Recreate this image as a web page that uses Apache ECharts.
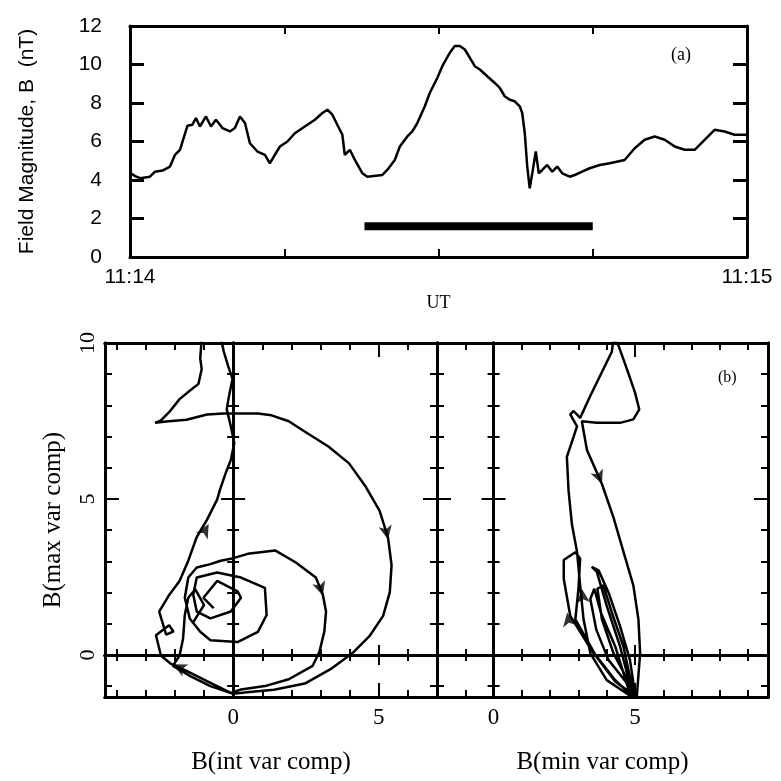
<!DOCTYPE html>
<html><head><meta charset="utf-8">
<script src="https://cdn.jsdelivr.net/npm/echarts@6/dist/echarts.min.js"></script>
<style>html,body{margin:0;padding:0;background:#fff}#c{width:781px;height:781px}</style>
</head><body><div id="c"></div>
<script>
// ---------- panel (a): field magnitude vs time (seconds after 11:14:00) ----------
const timeSec = [0,0.5,1.0,1.94,2.43,3.16,3.89,4.37,4.86,5.59,6.07,6.41,6.80,7.39,7.87,8.36,8.99,9.72,10.2,10.69,11.18,11.66,12.39,13.12,13.6,13.99,14.58,15.31,16.03,17.0,17.98,18.71,19.19,19.68,20.16,20.65,20.89,21.38,21.87,22.6,23.08,24.54,25.02,25.75,26.24,26.97,27.45,27.94,28.67,29.15,29.88,30.37,31.1,31.58,32.07,32.56,33.05,33.53,34.02,34.74,35.47,35.96,36.44,36.93,37.41,37.9,38.14,38.39,38.63,38.87,39.12,39.46,39.75,40.09,40.57,41.06,41.55,42.03,42.76,43.25,43.97,44.7,45.68,46.65,48.1,49.08,50.05,51.02,52.0,52.97,53.94,54.91,55.88,56.85,57.82,58.79,60];
const fieldB  = [4.38,4.2,4.09,4.17,4.43,4.49,4.70,5.30,5.57,6.82,6.87,7.22,6.78,7.30,6.78,7.13,6.70,6.52,6.70,7.30,6.96,5.91,5.48,5.30,4.87,5.22,5.74,6.0,6.43,6.78,7.13,7.48,7.65,7.39,6.87,6.35,5.30,5.57,5.04,4.35,4.17,4.26,4.52,5.04,5.74,6.26,6.52,6.96,7.83,8.52,9.30,9.91,10.61,10.96,10.96,10.78,10.35,9.91,9.74,9.39,9.04,8.78,8.35,8.17,8.09,7.83,7.48,6.43,4.70,3.57,4.35,5.48,4.35,4.52,4.78,4.43,4.70,4.35,4.17,4.26,4.43,4.61,4.78,4.87,5.04,5.65,6.09,6.26,6.09,5.74,5.57,5.57,6.09,6.61,6.52,6.35,6.35];
const barSpan = [22.8, 45];
const barLevel = 1.6;
const timeTicks = [0, 15, 30, 45, 60];
const timeLabelValues = [0, 60];
const timeLabels = ['11:14', '11:15'];
const fieldTicks = [0, 2, 4, 6, 8, 10, 12];

// ---------- panel (b): hodograms ----------
const intX = [-0.67,-1.02,-0.55,0.15,0.27,-0.08,-0.78,-1.25,-1.37,-1.25,-0.55,0.27,1.09,1.15,0.85,0.15,-0.78,-1.13,-1.49,-1.66,-1.54,-1.25,-0.78,-0.43,-0.08,0.5,1.44,2.14,2.84,3.08,3.19,3.13,2.96,2.73,1.91,1.09,0.27,-0.08,-0.9,-1.6,-2.13,-2.48,-2.65,-2.2,-2.05,-2.3,-2.54,-2.19,-1.84,-1.54,-1.25,-0.9,-0.55,-0.45,-0.26,-0.08,0.04,-0.08,-0.22,-0.14,-0.02,-0.18,-0.32,-0.41,-0.75,-1.08,-1.13,-1.08,-1.19,-1.49,-1.84,-2.19,-2.48,-2.68,-2.3,-1.6,-0.9,-0.32,0.27,0.85,1.32,1.91,2.44,3.27,3.98,4.56,5.03,5.32,5.44,5.38,5.15,4.68,4.09,3.39,2.46,1.4,0.47,0,-0.78,-1.49,-2.07,-1.84,-1.72,-1.66,-1.54,-1.3,-1.0,-1.4];
const intY = [1.5,1.83,2.37,2.04,1.83,1.39,1.17,1.39,1.93,2.48,2.64,2.48,2.15,1.28,0.74,0.41,0.47,0.74,1.17,1.83,2.48,2.8,2.91,3.02,3.08,3.24,3.35,2.97,2.48,1.93,1.39,0.74,0.09,-0.35,-0.78,-1.0,-1.11,-1.22,-0.84,-0.51,-0.29,-0.02,0.63,0.95,0.75,0.65,1.39,1.93,2.37,3.02,3.78,4.33,4.98,5.3,5.82,6.25,6.79,7.33,7.88,8.31,8.85,9.28,9.72,10.1,10.4,10.15,9.5,9.17,8.69,8.47,8.2,7.79,7.52,7.44,7.48,7.54,7.71,7.74,7.74,7.74,7.68,7.49,7.17,6.68,6.14,5.38,4.62,3.75,2.88,2.01,1.25,0.6,0.05,-0.43,-0.92,-1.12,-1.2,-1.25,-1.0,-0.67,-0.35,-0.02,0.52,1.28,1.83,2.1,1.6,1.0];
const minX = [4.9,4.0,3.42,3.18,3.06,2.95,2.77,2.65,2.59,2.83,2.95,2.71,2.83,3.06,3.42,3.77,4.18,4.24,4.41,4.71,5.0,5.15,4.94,4.47,3.65,3.12,3.3,3.83,4.24,4.59,4.94,5.12,5.18,5.06,4.3,3.5,2.71,2.48,2.48,2.89,3.06,3.0,2.89,3.6,4.3,4.94,4.47,4.0,3.65,3.47,3.71,4.06,4.47,4.82,5.0,4.24,3.83,3.67,3.88,4.18,4.59,4.92,4.06,3.63,3.42,3.56,3.79,4.3,4.82];
const minY = [-1.36,-0.81,0.05,1.14,2.23,3.31,4.18,5.27,6.35,7.0,7.33,7.71,7.82,7.6,8.31,8.96,9.72,10.15,9.93,9.17,8.41,7.87,7.55,7.44,7.44,7.49,6.57,5.48,4.4,3.31,2.23,1.14,0.05,-1.36,-0.85,0.1,1.25,2.44,3.04,3.29,3.09,2.12,1.14,0.0,-0.81,-1.36,0.27,1.57,2.66,2.82,2.71,2.01,0.92,-0.16,-1.25,0.05,1.14,2.12,2.23,1.36,0.27,-1.14,-0.16,0.81,1.79,2.12,1.36,0.27,-1.25];
// arrow heads: [x, y, direction in degrees (0 = up, counter-clockwise)]
const arrowsInt = [[-0.84, 4.2, -29], [5.32, 3.7, 192], [3.08, 1.9, 197], [-2.07, -0.3, 64]];
const arrowsMin = [[3.83, 5.48, 202], [3.12, 2.12, 6], [2.6, 1.36, 10]];
const intRange = [-4.4, 7.0];
const minRange = [-2.0, 9.7];
const maxRange = [-1.35, 10.0];
const intTicks = [-4,-3,-2,-1,0,1,2,3,4,5,6,7];
const minTicks = [-2,-1,0,1,2,3,4,5,6,7,8,9];
const maxTicks = [-1,0,1,2,3,4,5,6,7,8,9,10];
const majorX = [0, 5];
const majorY = [0, 5, 10];
const labelX = [0, 5];
const labelY = [0, 5, 10];

// ---------- build ----------
const INK = '#000';
const SERIF = '"Liberation Serif","Times New Roman",serif';
const SANS = '"Liberation Sans",Arial,sans-serif';
const xAxes = [], yAxes = [];
function ax(list, grid, range, pos, ticks, len, inside, more) {
  more = more || {};
  const a = {
    type: 'value', gridIndex: grid, min: range[0], max: range[1], position: pos,
    axisLine: { show: true, onZero: false, lineStyle: { color: INK, width: 3 } },
    axisTick: { show: true, inside: inside, length: len, customValues: ticks, lineStyle: { color: INK, width: more.tickWidth || 2 } },
    axisLabel: more.axisLabel || { show: false },
    splitLine: { show: false },
    name: more.name || '', nameLocation: 'middle', nameGap: more.nameGap || 0,
    nameTextStyle: more.nameTextStyle || {}
  };
  if (more.onZeroIdx !== undefined) { a.axisLine.onZero = true; a.axisLine.onZeroAxisIndex = more.onZeroIdx; }
  list.push(a);
  return list.length - 1;
}

// top panel
const tX = ax(xAxes, 0, [0, 60], 'bottom', timeTicks, 8, true, {
  axisLabel: { show: true, customValues: timeLabelValues, margin: 10, color: INK, fontFamily: SANS, fontSize: 21,
    formatter: v => timeLabels[timeLabelValues.indexOf(v)] },
  name: 'UT', nameGap: 37, nameTextStyle: { fontFamily: SERIF, fontSize: 18, color: INK }
});
ax(xAxes, 0, [0, 60], 'top', timeTicks, 8, true);
const tY = ax(yAxes, 0, [0, 12], 'left', fieldTicks, 14, true, {
  tickWidth: 3,
  axisLabel: { show: true, customValues: fieldTicks, margin: 28, color: INK, fontFamily: SANS, fontSize: 21 },
  name: 'Field Magnitude, B  (nT)', nameGap: 92, nameTextStyle: { fontFamily: SANS, fontSize: 21, color: INK }
});
ax(yAxes, 0, [0, 12], 'right', fieldTicks, 14, true, { tickWidth: 3 });

function hodoAxes(grid, xr, xt, xName, leftIsOuter) {
  const yMain = ax(yAxes, grid, maxRange, 'left', maxTicks, 7, true, leftIsOuter ? {
    axisLabel: { show: true, customValues: labelY, rotate: 90, margin: 6, color: INK, fontFamily: SERIF, fontSize: 22 },
    name: 'B(max var comp)', nameGap: 39, nameTextStyle: { fontFamily: SERIF, fontSize: 25, color: INK }
  } : {});
  ax(yAxes, grid, maxRange, 'left', majorY, 14, true);
  ax(yAxes, grid, maxRange, 'right', maxTicks, 7, true);
  ax(yAxes, grid, maxRange, 'right', majorY, 14, true);
  const xMain = ax(xAxes, grid, xr, 'bottom', xt, 7, true, {
    axisLabel: { show: true, customValues: labelX, margin: 9, color: INK, fontFamily: SERIF, fontSize: 23 },
    name: xName, nameGap: 53, nameTextStyle: { fontFamily: SERIF, fontSize: 25, color: INK }
  });
  ax(xAxes, grid, xr, 'bottom', majorX, 14, true);
  ax(xAxes, grid, xr, 'top', xt, 7, true);
  ax(xAxes, grid, xr, 'top', majorX, 14, true);
  // zero lines with crossing ticks
  ax(xAxes, grid, xr, 'bottom', xt, 6, true, { onZeroIdx: yMain });
  ax(xAxes, grid, xr, 'bottom', xt, 6, false, { onZeroIdx: yMain });
  ax(xAxes, grid, xr, 'bottom', [5], 10, true, { onZeroIdx: yMain });
  ax(xAxes, grid, xr, 'bottom', [5], 10, false, { onZeroIdx: yMain });
  ax(yAxes, grid, maxRange, 'left', maxTicks, 6, true, { onZeroIdx: xMain });
  ax(yAxes, grid, maxRange, 'left', maxTicks, 6, false, { onZeroIdx: xMain });
  ax(yAxes, grid, maxRange, 'left', [5], 12, true, { onZeroIdx: xMain });
  ax(yAxes, grid, maxRange, 'left', [5], 12, false, { onZeroIdx: xMain });
  return { x: xMain, y: yMain };
}
const L = hodoAxes(1, intRange, intTicks, 'B(int var comp)', true);
const R = hodoAxes(2, minRange, minTicks, 'B(min var comp)', false);

const zip = (a, b) => a.map((v, i) => [v, b[i]]);
const lineStyle = { color: INK, width: 2.5 };
const arrowSeries = (data, ax) => ({
  type: 'scatter', xAxisIndex: ax.x, yAxisIndex: ax.y, data: data,
  symbol: 'arrow', symbolSize: [10, 14], symbolRotate: v => v[2],
  itemStyle: { color: INK }, z: 6, silent: true
});

const option = {
  animation: false,
  backgroundColor: '#fff',
  grid: [
    { left: 130, right: 34, top: 26, height: 231, outerBoundsMode: 'none' },
    { left: 105, width: 332, top: 343, height: 354, outerBoundsMode: 'none' },
    { left: 437, width: 331, top: 343, height: 354, outerBoundsMode: 'none' }
  ],
  xAxis: xAxes,
  yAxis: yAxes,
  series: [
    { type: 'line', xAxisIndex: tX, yAxisIndex: tY, data: zip(timeSec, fieldB), symbol: 'none', lineStyle: lineStyle },
    { type: 'line', xAxisIndex: tX, yAxisIndex: tY, data: [[barSpan[0], barLevel], [barSpan[1], barLevel]],
      symbol: 'none', lineStyle: { color: INK, width: 8, cap: 'butt' } },
    { type: 'line', xAxisIndex: L.x, yAxisIndex: L.y, data: zip(intX, intY), symbol: 'none', lineStyle: lineStyle },
    { type: 'line', xAxisIndex: R.x, yAxisIndex: R.y, data: zip(minX, minY), symbol: 'none', lineStyle: lineStyle },
    arrowSeries(arrowsInt, L),
    arrowSeries(arrowsMin, R)
  ],
  graphic: [
    { type: 'text', left: 671, top: 46, style: { text: '(a)', font: '18px ' + SERIF, fill: INK } },
    { type: 'text', left: 718, top: 370, style: { text: '(b)', font: '16px ' + SERIF, fill: INK } }
  ]
};
const chart = echarts.init(document.getElementById('c'), null, { renderer: 'canvas' });
chart.setOption(option);
</script>
</body></html>
